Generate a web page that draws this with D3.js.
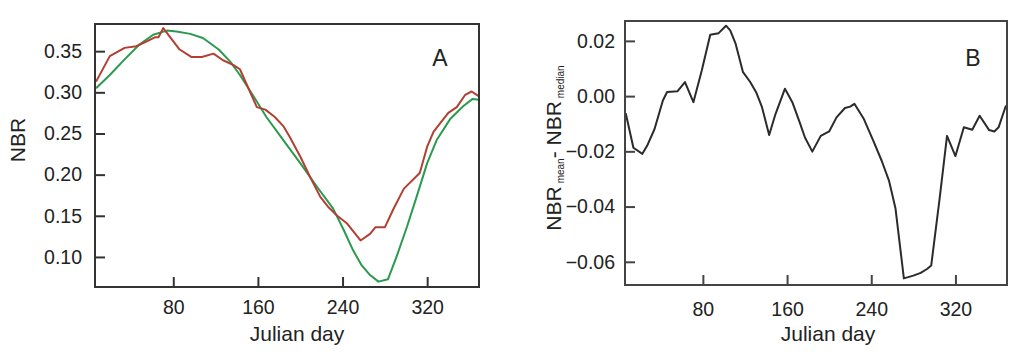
<!DOCTYPE html>
<html>
<head>
<meta charset="utf-8">
<script src="https://cdn.jsdelivr.net/npm/d3@7"></script>
<style>
  body { margin: 0; background: #fff; }
  svg { display: block; font-family: "Liberation Sans", Arial, sans-serif; }
  .tick text { font-size: 19.5px; fill: #222; }
</style>
</head>
<body>
<svg id="chart" width="1024" height="354"></svg>
<script>
// Panel A: NBR, two curves (red = mean, green = smoothed median)
const redDays = [7, 20, 34, 45, 55, 63, 66, 70.5, 86, 97, 107, 118, 127, 137, 143, 159, 167, 176, 184, 190, 200, 209, 219, 227, 235, 244, 257, 266, 271, 280, 288, 294, 298, 313, 320, 326, 332, 340, 348, 356, 362, 369];
const redNBR = [0.313, 0.344, 0.354, 0.356, 0.362, 0.367, 0.367, 0.378, 0.352, 0.343, 0.343, 0.347, 0.339, 0.333, 0.328, 0.282, 0.279, 0.270, 0.259, 0.246, 0.222, 0.198, 0.173, 0.160, 0.150, 0.141, 0.120, 0.128, 0.136, 0.136, 0.158, 0.173, 0.183, 0.202, 0.234, 0.252, 0.262, 0.275, 0.282, 0.297, 0.301, 0.295];
const greenDays = [7, 20, 34, 48, 61, 74, 83, 96, 108, 123, 134, 143, 156, 168, 184, 200, 216, 231, 241, 250, 258, 266, 274, 283, 291, 301, 310, 320, 329, 342, 354, 363, 369];
const greenNBR = [0.305, 0.321, 0.340, 0.358, 0.370, 0.375, 0.374, 0.371, 0.366, 0.352, 0.337, 0.321, 0.295, 0.270, 0.242, 0.214, 0.185, 0.159, 0.133, 0.108, 0.090, 0.078, 0.070, 0.073, 0.100, 0.137, 0.173, 0.214, 0.242, 0.268, 0.283, 0.292, 0.291];

// Panel B: difference mean - median
const diffDays = [6.7, 14, 22.5, 27, 34, 42, 46, 56, 63, 71, 79, 87, 95, 102, 106, 111, 118, 125, 131, 136, 143, 149, 158, 165, 172, 177, 184, 192, 200, 207, 215, 220, 224, 233, 242, 250, 257, 263, 271, 280, 287, 293, 297, 305, 312, 320, 328, 336, 343, 352, 357, 361, 368];
const diffNBR = [-0.0062, -0.0187, -0.0209, -0.0180, -0.0120, -0.0016, 0.0015, 0.0018, 0.0051, -0.0022, 0.0094, 0.0222, 0.0228, 0.0255, 0.0238, 0.0191, 0.0088, 0.0051, 0.0011, -0.0038, -0.0141, -0.0065, 0.0027, -0.0022, -0.0095, -0.0150, -0.0201, -0.0144, -0.0128, -0.0077, -0.0043, -0.0038, -0.0028, -0.0083, -0.0162, -0.0235, -0.0308, -0.0406, -0.0660, -0.0650, -0.0640, -0.0626, -0.0613, -0.0370, -0.0144, -0.0217, -0.0113, -0.0122, -0.0071, -0.0123, -0.0128, -0.0113, -0.0034];

const dayTicks = [80, 160, 240, 320];
const nbrTicks = [0.10, 0.15, 0.20, 0.25, 0.30, 0.35];
const diffTicks = [-0.06, -0.04, -0.02, 0.00, 0.02];

const svg = d3.select("#chart");

function drawPanel(opts) {
  const g = svg.append("g");
  const x = d3.scaleLinear().domain([6, 369]).range([opts.x0, opts.x1]);
  const y = d3.scaleLinear().domain(opts.yDomain).range([opts.y1, opts.y0]);

  // inward ticks
  g.append("g")
    .attr("transform", `translate(0,${opts.y1})`)
    .call(d3.axisBottom(x).tickValues(dayTicks).tickSize(-10).tickPadding(opts.xPad).tickFormat(d3.format("d")))
    .call(a => a.select(".domain").remove())
    .call(a => a.selectAll("line").attr("stroke", opts.frame).attr("stroke-width", 2));
  g.append("g")
    .attr("transform", `translate(${opts.x0},0)`)
    .call(d3.axisLeft(y).tickValues(opts.yTicks).tickSize(-10).tickPadding(opts.yPad).tickFormat(d3.format(".2f")))
    .call(a => a.select(".domain").remove())
    .call(a => a.selectAll("line").attr("stroke", opts.frame).attr("stroke-width", 2));

  const line = d3.line().x(d => x(d[0])).y(d => y(d[1]));
  opts.series.forEach(s => {
    g.append("path")
      .datum(d3.zip(s.days, s.values))
      .attr("fill", "none")
      .attr("stroke", s.color)
      .attr("stroke-width", 2)
      .attr("stroke-linejoin", "round")
      .attr("d", line);
  });

  g.append("rect")
    .attr("x", opts.x0).attr("y", opts.y0)
    .attr("width", opts.x1 - opts.x0).attr("height", opts.y1 - opts.y0)
    .attr("fill", "none").attr("stroke", opts.frame).attr("stroke-width", 2);

  g.append("text")
    .attr("x", opts.titleX).attr("y", 341)
    .attr("text-anchor", "middle")
    .attr("font-size", 21).attr("fill", "#222")
    .text("Julian day");

  g.append("text")
    .attr("x", opts.letterX).attr("y", 66)
    .attr("text-anchor", "middle")
    .attr("font-size", 23).attr("fill", "#222")
    .text(opts.letter);
  return g;
}

const gA = drawPanel({
  x0: 95, x1: 479, y0: 24, y1: 287,
  yDomain: [0.0635, 0.383], yTicks: nbrTicks,
  xPad: 13, yPad: 13, frame: "#333", titleX: 297, letter: "A", letterX: 440,
  series: [
    { days: greenDays, values: greenNBR, color: "#2a9a4e" },
    { days: redDays, values: redNBR, color: "#b23f33" }
  ]
});
gA.append("text")
  .attr("transform", "translate(25,140) rotate(-90)")
  .attr("text-anchor", "middle")
  .attr("font-size", 21).attr("fill", "#222")
  .text("NBR");

const gB = drawPanel({
  x0: 625, x1: 1007, y0: 21, y1: 285,
  yDomain: [-0.0684, 0.0272], yTicks: diffTicks,
  xPad: 17, yPad: 10, frame: "#444", titleX: 828, letter: "B", letterX: 973,
  series: [
    { days: diffDays, values: diffNBR, color: "#2b2b2b" }
  ]
});
const yLab = gB.append("text")
  .attr("transform", "translate(561,148) rotate(-90)")
  .attr("text-anchor", "middle")
  .attr("font-size", 21).attr("fill", "#222");
yLab.append("tspan").text("NBR");
yLab.append("tspan").attr("font-size", 10).attr("dy", 3).attr("dx", 3).text("mean");
yLab.append("tspan").attr("dy", -3).text("- NBR");
yLab.append("tspan").attr("font-size", 10).attr("dy", 3).attr("dx", 3).text("median");
</script>
</body>
</html>
